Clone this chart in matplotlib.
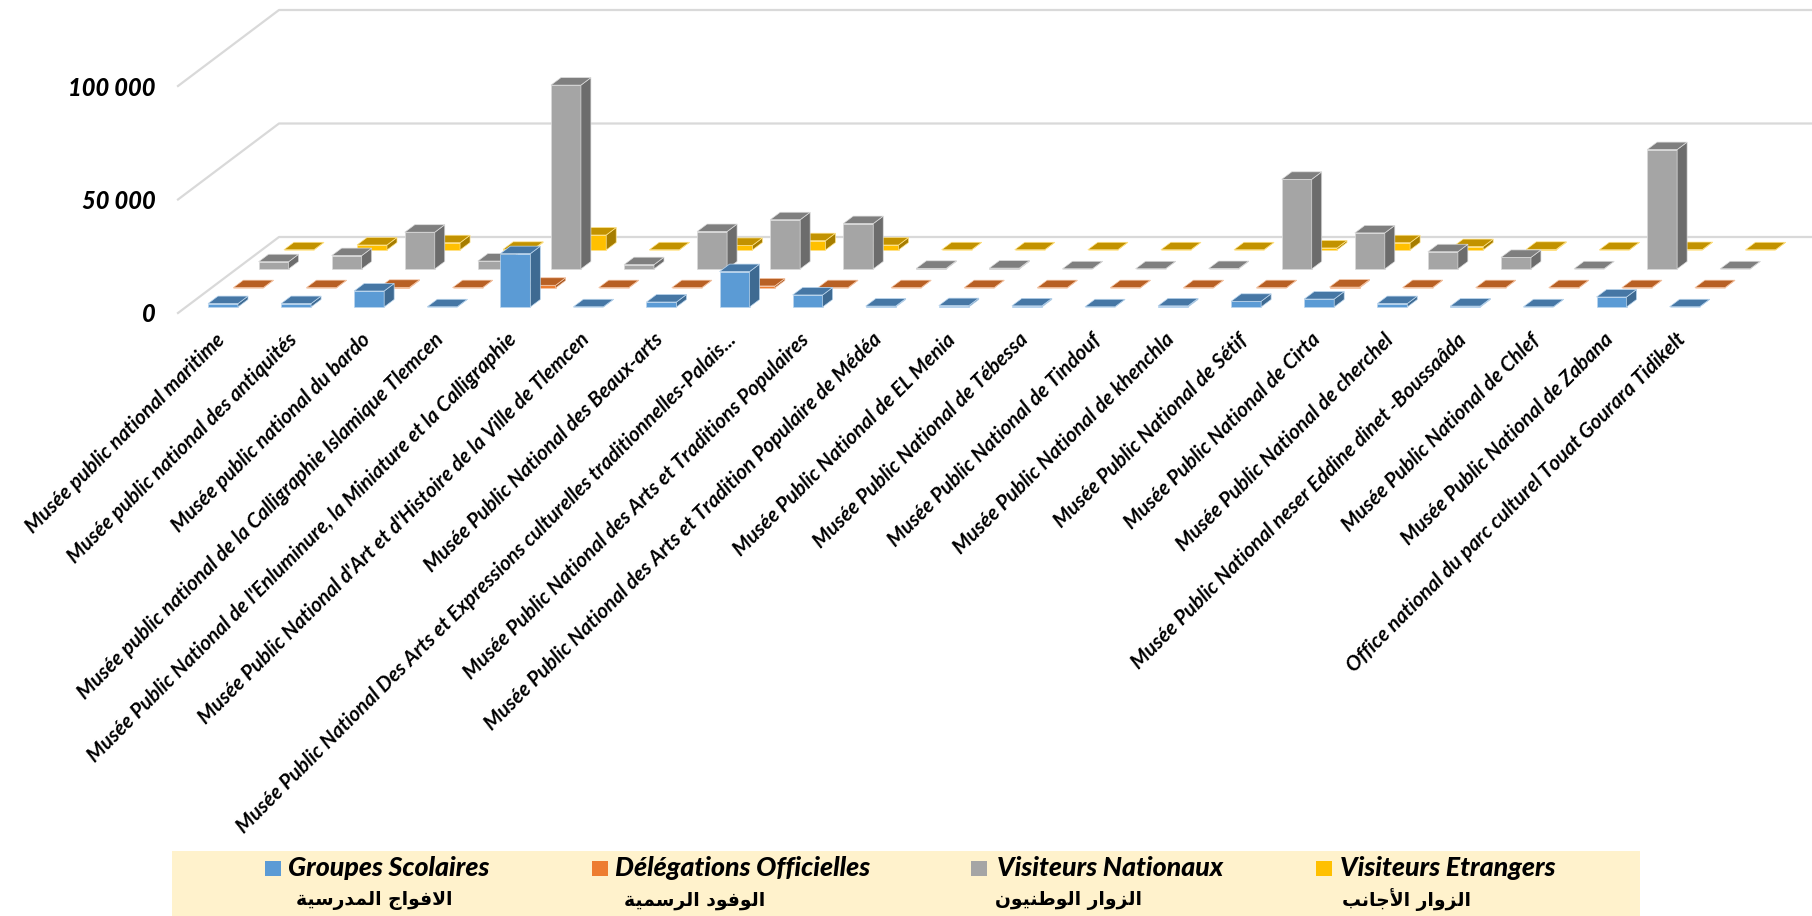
#!/usr/bin/env python
"""
Visitors of the public national museums, Excel style 3-D clustered bars.
The oblique depth is drawn by hand on a plain axes: x is the museum index,
y is the number of visitors.
"""
import numpy as np
import matplotlib
matplotlib.use("Agg")
import matplotlib.pyplot as plt
from matplotlib.patches import Rectangle

museums = [
    "Musée public national maritime",
    "Musée public national des antiquités",
    "Musée public national du bardo",
    "Musée public national de la Calligraphie Islamique Tlemcen",
    "Musée Public National de l'Enluminure, la Miniature et la Calligraphie",
    "Musée Public National d'Art et d'Histoire de la Ville de Tlemcen",
    "Musée Public National des Beaux-arts",
    "Musée Public National Des Arts et Expressions culturelles traditionnelles-Palais...",
    "Musée Public National des Arts et Traditions Populaires",
    "Musée Public National des Arts et Tradition Populaire de Médéa",
    "Musée Public National de EL Menia",
    "Musée Public National de Tébessa",
    "Musée Public National de Tindouf",
    "Musée Public National de khenchla",
    "Musée Public National de Sétif",
    "Musée Public National de Cirta",
    "Musée Public National de cherchel",
    "Musée Public National neser Eddine dinet -Boussaâda",
    "Musée Public National de Chlef",
    "Musée Public National de Zabana",
    "Office national du parc culturel Touat Gourara Tidikelt",
]

# values
groupes = [1500, 1500, 7050, 100, 23500, 100, 2200, 15600, 5300, 400, 600,
           500, 100, 500, 2500, 3500, 1500, 400, 100, 4400, 100]
delegations = [150, 150, 300, 150, 1200, 150, 150, 900, 150, 150, 150,
               150, 150, 150, 150, 400, 200, 150, 150, 150, 150]
nationaux = [3200, 5900, 16200, 3500, 81000, 1900, 16500, 21700, 20000, 300,
             400, 100, 100, 200, 39500, 15900, 7600, 5100, 100, 52600, 100]
etrangers = [100, 2200, 3200, 300, 6600, 100, 2000, 4100, 2200, 100, 100,
             100, 100, 100, 900, 3200, 1500, 300, 100, 200, 100]

y_ticks = [0, 50000, 100000]
y_tick_labels = ["0", "50 000", "100 000"]

legend_fr = ["Groupes Scolaires", "Délégations Officielles",
             "Visiteurs Nationaux", "Visiteurs Etrangers"]
# Arabic already shaped, matplotlib does no joining or right-to-left
legend_ar = [
    "\uFE8D\uFEFB\uFED3\uFEEE\uFE8D\uFE9D \uFE8D\uFEDF\uFEE4\uFEAA\uFEAD\uFEB3\uFEF4\uFE94"[::-1],
    "\uFE8D\uFEDF\uFEEE\uFED3\uFEEE\uFEA9 \uFE8D\uFEDF\uFEAE\uFEB3\uFEE4\uFEF4\uFE94"[::-1],
    "\uFE8D\uFEDF\uFEB0\uFEED\uFE8D\uFEAD \uFE8D\uFEDF\uFEEE\uFEC3\uFEE8\uFEF4\uFEEE\uFEE5"[::-1],
    "\uFE8D\uFEDF\uFEB0\uFEED\uFE8D\uFEAD \uFE8D\uFEF7\uFE9F\uFE8E\uFEE7\uFE90"[::-1],
]

# (front, top, side, edge) for every series
colors = [
    ("#5B9BD5", "#4677A5", "#3E6A92", "#BBD6EE"),
    ("#ED7D31", "#B86024", "#A5561F", "#F6C7A8"),
    ("#A5A5A5", "#7F7F7F", "#6C6C6C", "#DBDBDB"),
    ("#FFC000", "#C29200", "#A67D00", "#FFE38A"),
]

WIDTH, HEIGHT = 1812, 916
PX_X = 73.08  # pixels for one museum
PX_Y = 50000 / 113.5  # visitors for one pixel
FLOOR_DX, FLOOR_DY = 101 / PX_X, 76 * PX_Y
BAR_W = 30 / PX_X
DEPTH_DX, DEPTH_DY = 10 / PX_X, 7.5 * PX_Y
ROW_DX, ROW_DY = 25.3 / PX_X, 19 * PX_Y
ROW0_BASE = 6 * PX_Y
FONT = "Lato"

fig = plt.figure(figsize=(WIDTH / 100, HEIGHT / 100), dpi=100)
ax = fig.add_axes([178 / WIDTH, 1 - 313 / HEIGHT, 1 - 178 / WIDTH, 313 / HEIGHT])
x_left = (178 - 223) / PX_X
x_right = (WIDTH - 223) / PX_X
ax.set_xlim(x_left, x_right)
ax.set_ylim(0, 313 * PX_Y)
for spine in ax.spines.values():
    spine.set_visible(False)
ax.patch.set_visible(False)


def draw_bar(k, row, value):
    front, top, side, edge = colors[row]
    x0 = k - BAR_W / 2 + row * ROW_DX
    x1 = x0 + BAR_W
    y0 = ROW0_BASE + row * ROW_DY
    y1 = y0 + value
    kw = dict(edgecolor=edge, linewidth=0.5, clip_on=False, zorder=3)
    ax.fill([x0, x1, x1, x0], [y0, y0, y1, y1], facecolor=front, **kw)
    ax.fill([x1, x1 + DEPTH_DX, x1 + DEPTH_DX, x1],
            [y0, y0 + DEPTH_DY, y1 + DEPTH_DY, y1], facecolor=side, **kw)
    ax.fill([x0, x1, x1 + DEPTH_DX, x0 + DEPTH_DX],
            [y1, y1, y1 + DEPTH_DY, y1 + DEPTH_DY], facecolor=top, **kw)


for g in y_ticks:
    ax.plot([x_left, x_left + FLOOR_DX, x_right], [g, g + FLOOR_DY, g + FLOOR_DY],
            color="#D9D9D9", linewidth=1.6, clip_on=False, zorder=1)

# back row first so that front bars cover it
series = [groupes, delegations, nationaux, etrangers]
for row in range(3, -1, -1):
    for k in range(len(museums) - 1, -1, -1):
        draw_bar(k, row, series[row][k])

ax.set_yticks(y_ticks)
ax.set_yticklabels(y_tick_labels, fontfamily=FONT, fontweight="black",
                   fontstyle="italic", fontsize=17)
ax.set_xticks(np.arange(len(museums)) - 0.12)
ax.set_xticklabels(museums, rotation=45, ha="right", va="top",
                   rotation_mode="anchor", fontfamily=FONT, fontweight="bold",
                   fontstyle="italic", fontsize=14.8)
ax.tick_params(axis="both", length=0)
ax.tick_params(axis="y", pad=16)
ax.tick_params(axis="x", pad=12)

# legend, positions in pixels
leg = fig.add_axes([0, 0, 1, 1])
leg.set_xlim(0, WIDTH)
leg.set_ylim(HEIGHT, 0)
leg.axis("off")
leg.add_patch(Rectangle((172, 851), 1468, 65, facecolor="#FFF2CC", edgecolor="none"))
swatch_x = [265, 592, 971, 1316]
text_x = [288, 615, 997, 1340]
arabic_x = [296, 624, 995, 1342]
for i in range(4):
    leg.add_patch(Rectangle((swatch_x[i], 861), 16, 15, facecolor=colors[i][0],
                            edgecolor="none"))
    leg.text(text_x[i], 868, legend_fr[i], fontfamily=FONT, fontweight="black",
             fontstyle="italic", fontsize=19.3, va="center", ha="left")
    leg.text(arabic_x[i], 900, legend_ar[i], fontfamily="DejaVu Sans",
             fontweight="bold", fontsize=13.5, va="center", ha="left")

fig.savefig("out.png", dpi=100, facecolor="white")
